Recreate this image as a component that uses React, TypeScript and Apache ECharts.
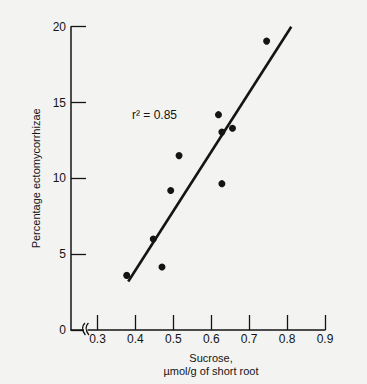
import React, { useEffect, useRef } from "react";
import * as echarts from "echarts";

// Data
const sucrose = [0.377, 0.447, 0.47, 0.493, 0.515, 0.619, 0.628, 0.628, 0.656, 0.746];
const ectomycorrhizae = [3.6, 6.0, 4.15, 9.2, 11.5, 14.2, 13.05, 9.65, 13.3, 19.05];
const fitX = [0.381, 0.811];
const fitY = [3.2, 20.0];
const xTickValues = [0.3, 0.4, 0.5, 0.6, 0.7, 0.8, 0.9];
const yTickInterval = 5;
const rSquaredLabel = "r\u00B2 = 0.85";
const xAxisTitle = "Sucrose,\n\u00B5mol/g of short root";
const yAxisTitle = "Percentage ectomycorrhizae";

const FONT = "'Liberation Sans', Arial, Helvetica, sans-serif";
const INK = "#141414";
const BG = "#f3f3f1";

export default function App() {
  const ref = useRef<HTMLDivElement>(null);

  useEffect(() => {
    if (!ref.current) return;
    const chart = echarts.init(ref.current, null, { renderer: "svg" });
    const points = sucrose.map((x, i) => [x, ectomycorrhizae[i]]);
    const fit = fitX.map((x, i) => [x, fitY[i]]);

    chart.setOption({
      animation: false,
      backgroundColor: BG,
      textStyle: { fontFamily: FONT, color: INK },
      grid: { left: 71, right: 42, top: 26.7, bottom: 54, containLabel: false },
      xAxis: {
        type: "value",
        min: 0.23,
        max: 0.9,
        splitLine: { show: false },
        axisLine: { lineStyle: { color: INK, width: 1.5 } },
        axisTick: {
          customValues: xTickValues,
          inside: true,
          length: 15,
          lineStyle: { color: INK, width: 1.3 },
        },
        axisLabel: {
          customValues: xTickValues,
          formatter: (v: number) => v.toFixed(1),
          fontSize: 12,
          color: INK,
          fontFamily: FONT,
          margin: 3,
        },
      },
      yAxis: {
        type: "value",
        min: 0,
        max: 20,
        interval: yTickInterval,
        name: yAxisTitle,
        nameLocation: "middle",
        nameGap: 22,
        nameTextStyle: { fontSize: 11, color: INK, fontFamily: FONT },
        splitLine: { show: false },
        axisLine: { lineStyle: { color: INK, width: 1.5 } },
        axisTick: { inside: true, length: 15, lineStyle: { color: INK, width: 1.3 } },
        axisLabel: { fontSize: 12, color: INK, fontFamily: FONT, margin: 5 },
      },
      series: [
        {
          type: "line",
          data: fit,
          symbol: "none",
          lineStyle: { color: INK, width: 2.6 },
          z: 2,
        },
        {
          type: "scatter",
          data: points,
          symbol: "circle",
          symbolSize: 7,
          itemStyle: { color: INK, opacity: 1 },
          z: 3,
        },
      ],
    });

    const brk = chart.convertToPixel({ xAxisIndex: 0, yAxisIndex: 0 }, [0.268, 0]) as number[];
    const bx = brk[0];
    const by = brk[1];

    chart.setOption({
      graphic: [
        {
          type: "rect",
          shape: { x: bx - 1.5, y: by - 2, width: 3.5, height: 4 },
          style: { fill: BG },
          z: 100,
        },
        {
          type: "bezierCurve",
          shape: { x1: bx - 0.5, y1: by - 7, x2: bx, y2: by + 5, cpx1: bx - 5.5, cpy1: by - 2 },
          style: { stroke: INK, lineWidth: 1.3, fill: null },
          z: 101,
        },
        {
          type: "bezierCurve",
          shape: { x1: bx + 3, y1: by - 7, x2: bx + 3.5, y2: by + 5, cpx1: bx - 2, cpy1: by - 2 },
          style: { stroke: INK, lineWidth: 1.3, fill: null },
          z: 101,
        },
        {
          type: "text",
          x: 132,
          y: 115,
          style: {
            text: rSquaredLabel,
            fontSize: 12,
            fontFamily: FONT,
            fill: INK,
            verticalAlign: "middle",
            textAlign: "left",
          },
          z: 100,
        },
        {
          type: "text",
          x: 211,
          y: by + 22,
          style: {
            text: xAxisTitle,
            fontSize: 11,
            lineHeight: 12.5,
            fontFamily: FONT,
            fill: INK,
            verticalAlign: "top",
            textAlign: "center",
          },
          z: 100,
        },
      ],
    });

    return () => chart.dispose();
  }, []);

  return (
    <div
      ref={ref}
      style={{ position: "fixed", left: 0, top: 0, width: 367, height: 384 }}
    />
  );
}
